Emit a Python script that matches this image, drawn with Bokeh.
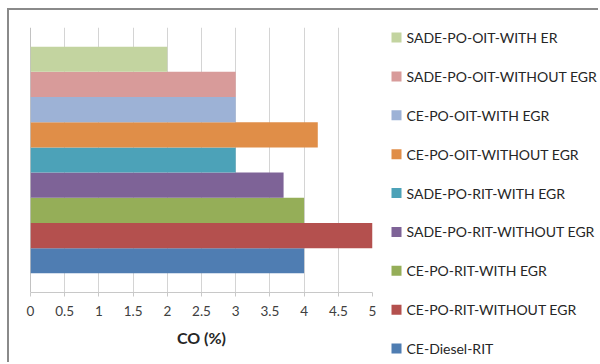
from bokeh.plotting import figure
from bokeh.layouts import row
from bokeh.models import FixedTicker, Span, ColumnDataSource
from bokeh.core.properties import value
from bokeh.embed import file_html
from bokeh.resources import INLINE

# CO emissions per engine configuration, listed bottom bar first
categories = [
    "CE-Diesel-RIT",
    "CE-PO-RIT-WITHOUT EGR",
    "CE-PO-RIT-WITH EGR",
    "SADE-PO-RIT-WITHOUT EGR",
    "SADE-PO-RIT-WITH EGR",
    "CE-PO-OIT-WITHOUT EGR",
    "CE-PO-OIT-WITH EGR",
    "SADE-PO-OIT-WITHOUT EGR",
    "SADE-PO-OIT-WITH ER",
]
co_values = [4, 5, 4, 3.7, 3, 4.2, 3, 3, 2]
bar_colors = [
    "#4f7db2", "#b4504e", "#95ae58", "#7e6397", "#4ca2b8",
    "#e08e48", "#9db2d6", "#d89b9a", "#c3d4a0",
]
x_ticks = [0, 0.5, 1, 1.5, 2, 2.5, 3, 3.5, 4, 4.5, 5]
x_tick_labels = ["0", "0.5", "1", "1.5", "2", "2.5", "3", "3.5", "4", "4.5", "5"]

FONT = "Lato"
BORDER = "2px solid #8a8a8a"

# --- bar chart -------------------------------------------------------------
p = figure(
    width=375, height=354,
    x_range=(0, 5), y_range=(-1.26, 9.26),
    output_backend="svg", toolbar_location=None,
    y_axis_location=None,
    min_border_left=21, min_border_right=12,
    min_border_top=17, min_border_bottom=72,
    styles={"border-left": BORDER, "border-top": BORDER},
)
p.frame_align = False
p.outline_line_color = None

for i, (val, col) in enumerate(zip(co_values, bar_colors)):
    p.hbar(y=[i], right=[val], left=0, height=1.0,
           fill_color=col, line_color=None)

# vertical axis line at zero
p.add_layout(Span(location=0, dimension="height", line_color="#868686",
                  line_width=1, level="underlay"))

p.xgrid.ticker = FixedTicker(ticks=x_ticks)
p.xgrid.grid_line_color = "#d4d4d4"
p.ygrid.grid_line_color = None

ax = p.xaxis[0]
ax.ticker = FixedTicker(ticks=x_ticks)
ax.major_label_overrides = {t: s for t, s in zip(x_ticks, x_tick_labels)}
ax.axis_line_color = "#c8c8c8"
ax.major_tick_line_color = "#c8c8c8"
ax.major_tick_in = 0
ax.major_tick_out = 4
ax.minor_tick_line_color = None
ax.major_label_text_font = FONT
ax.major_label_text_font_size = "13.5px"
ax.major_label_text_color = "#404040"
ax.major_label_standoff = 9
ax.axis_label = "CO (%)"
ax.axis_label_text_font = FONT
ax.axis_label_text_font_size = "16px"
ax.axis_label_text_font_style = "bold"
ax.axis_label_text_color = "#262626"
ax.axis_label_standoff = 9

# --- legend panel (pixel-like coordinates, y pointing down) -----------------
LW, LH = 216, 354
lf = figure(
    width=LW, height=LH,
    x_range=(0, LW), y_range=(LH, 0),
    output_backend="svg", toolbar_location=None,
    x_axis_location=None, y_axis_location=None,
    min_border=0,
    styles={"border-top": BORDER},
)
lf.frame_align = False
lf.outline_line_color = None
lf.grid.grid_line_color = None

# top entry is the last series, matching the bar stacking order
order = list(reversed(range(len(categories))))
row_y = [27 + k * 38.875 for k in range(len(order))]
leg = ColumnDataSource(data=dict(
    y=row_y,
    label=[categories[i] for i in order],
    color=[bar_colors[i] for i in order],
))
lf.rect(x=14, y="y", width=10, height=10, source=leg,
        fill_color="color", line_color=None)
lf.text(x=24, y="y", text="label", source=leg,
        text_font=value(FONT), text_font_size="14px",
        text_color="#262626", text_baseline="middle", text_align="left")

layout = row(p, lf, spacing=0, margin=(8, 0, 0, 7))

open("out.html", "w").write(file_html(layout, INLINE))
